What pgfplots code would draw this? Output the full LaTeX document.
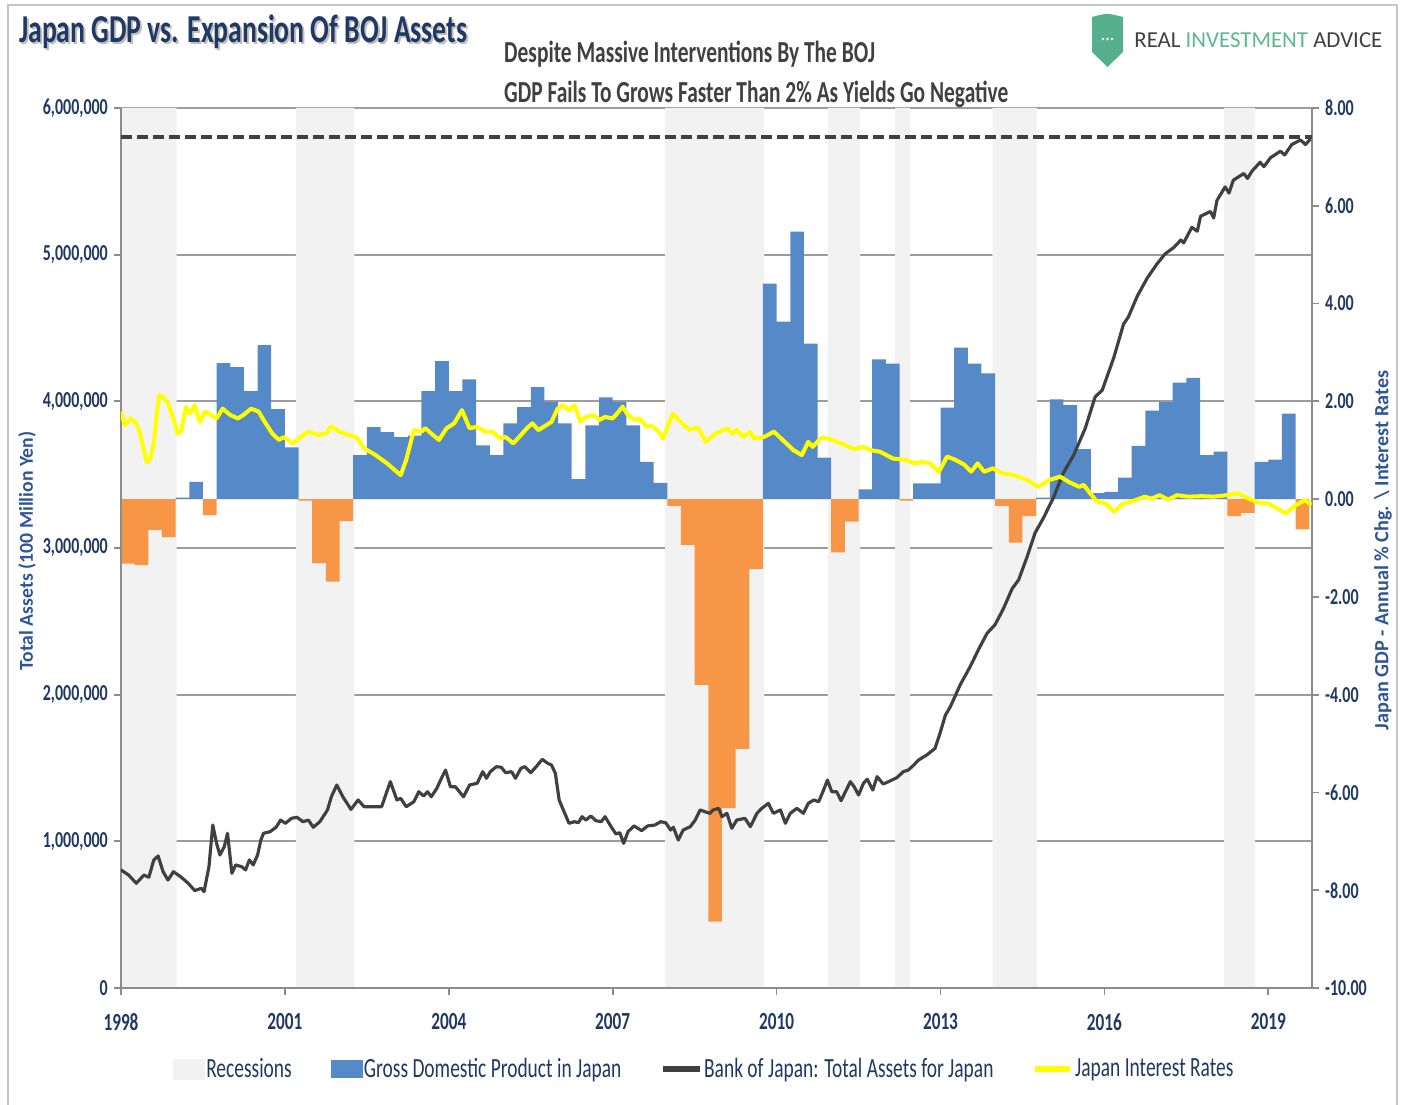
\documentclass[border=0pt]{standalone}
\usepackage{fontspec}
\setmainfont{Carlito}[FakeStretch=0.7]
\newfontfamily\plainfont{Carlito}
\usepackage{pgfplots}
\pgfplotsset{compat=1.18}
\usepackage{pgfplotstable}

\definecolor{recgray}{HTML}{F2F2F2}
\definecolor{gdpblue}{HTML}{5689C7}
\definecolor{gdporange}{HTML}{F79646}
\definecolor{bojgray}{HTML}{404040}
\definecolor{rateyellow}{HTML}{FFFF00}
\definecolor{navy}{HTML}{1F3864}
\definecolor{labelblue}{HTML}{2F5597}
\definecolor{gridgray}{HTML}{9C9C9C}
\definecolor{axisgray}{HTML}{8C8C8C}
\definecolor{logoteal}{HTML}{56B08F}
\definecolor{logogreen}{HTML}{5CB891}

% quarterly GDP, annual % chg (right axis); last row closes the last interval
\pgfplotstableread{
x pos neg
1998.00 0 -1.32
1998.25 0 -1.35
1998.50 0 -0.63
1998.75 0 -0.78
1999.00 0.03 0
1999.25 0.35 0
1999.50 0 -0.33
1999.75 2.78 0
2000.00 2.70 0
2000.25 2.21 0
2000.50 3.15 0
2000.75 1.84 0
2001.00 1.06 0
2001.25 0 -0.03
2001.50 0 -1.31
2001.75 0 -1.69
2002.00 0 -0.45
2002.25 0.90 0
2002.50 1.47 0
2002.75 1.37 0
2003.00 1.27 0
2003.25 1.30 0
2003.50 2.21 0
2003.75 2.82 0
2004.00 2.21 0
2004.25 2.45 0
2004.50 1.10 0
2004.75 0.90 0
2005.00 1.55 0
2005.25 1.88 0
2005.50 2.29 0
2005.75 1.99 0
2006.00 1.55 0
2006.25 0.41 0
2006.50 1.51 0
2006.75 2.08 0
2007.00 1.99 0
2007.25 1.51 0
2007.50 0.76 0
2007.75 0.33 0
2008.00 0 -0.14
2008.25 0 -0.94
2008.50 0 -3.80
2008.75 0 -8.64
2009.00 0 -6.32
2009.25 0 -5.11
2009.50 0 -1.43
2009.75 4.41 0
2010.00 3.63 0
2010.25 5.47 0
2010.50 3.18 0
2010.75 0.85 0
2011.00 0 -1.09
2011.25 0 -0.46
2011.50 0.20 0
2011.75 2.86 0
2012.00 2.77 0
2012.25 0 -0.03
2012.50 0.32 0
2012.75 0.32 0
2013.00 1.87 0
2013.25 3.10 0
2013.50 2.77 0
2013.75 2.57 0
2014.00 0 -0.14
2014.25 0 -0.89
2014.50 0 -0.35
2014.75 0.03 0
2015.00 2.04 0
2015.25 1.92 0
2015.50 1.02 0
2015.75 0.12 0
2016.00 0.15 0
2016.25 0.44 0
2016.50 1.09 0
2016.75 1.81 0
2017.00 1.99 0
2017.25 2.38 0
2017.50 2.48 0
2017.75 0.90 0
2018.00 0.97 0
2018.25 0 -0.35
2018.50 0 -0.28
2018.75 0.76 0
2019.00 0.81 0
2019.25 1.75 0
2019.50 0 -0.62
2019.75 0 0
}\gdptable

% BOJ total assets, millions of 100 million yen (left axis)
\pgfplotstableread{
x v
1998.00 0.805
1998.14 0.770
1998.28 0.714
1998.42 0.770
1998.51 0.755
1998.60 0.873
1998.68 0.900
1998.77 0.793
1998.86 0.736
1998.96 0.793
1999.09 0.759
1999.23 0.714
1999.35 0.664
1999.47 0.680
1999.52 0.657
1999.61 0.827
1999.68 1.111
1999.75 0.986
1999.81 0.907
1999.89 0.963
1999.95 1.055
2000.03 0.782
2000.10 0.839
2000.21 0.827
2000.28 0.805
2000.35 0.873
2000.42 0.839
2000.50 0.907
2000.56 1.009
2000.61 1.055
2000.73 1.066
2000.84 1.096
2000.92 1.145
2001.01 1.123
2001.12 1.157
2001.22 1.164
2001.33 1.134
2001.43 1.145
2001.52 1.096
2001.64 1.134
2001.78 1.214
2001.85 1.304
2001.95 1.384
2002.06 1.304
2002.21 1.218
2002.34 1.282
2002.45 1.236
2002.77 1.236
2002.93 1.407
2003.05 1.282
2003.12 1.293
2003.22 1.236
2003.36 1.270
2003.45 1.338
2003.54 1.309
2003.61 1.338
2003.68 1.304
2003.78 1.361
2003.85 1.418
2003.94 1.486
2004.03 1.372
2004.12 1.372
2004.27 1.304
2004.38 1.384
2004.52 1.396
2004.62 1.475
2004.69 1.430
2004.76 1.475
2004.87 1.509
2004.96 1.505
2005.04 1.468
2005.15 1.475
2005.22 1.430
2005.32 1.498
2005.39 1.509
2005.50 1.468
2005.60 1.509
2005.71 1.559
2005.81 1.532
2005.88 1.520
2005.95 1.464
2006.02 1.282
2006.11 1.202
2006.20 1.123
2006.30 1.134
2006.37 1.127
2006.44 1.168
2006.51 1.145
2006.60 1.173
2006.69 1.141
2006.79 1.134
2006.86 1.168
2006.97 1.100
2007.06 1.050
2007.13 1.059
2007.20 0.986
2007.28 1.066
2007.39 1.105
2007.53 1.073
2007.64 1.105
2007.77 1.111
2007.88 1.134
2007.97 1.127
2008.06 1.077
2008.11 1.096
2008.20 1.009
2008.29 1.077
2008.42 1.100
2008.51 1.145
2008.60 1.214
2008.69 1.202
2008.78 1.191
2008.84 1.214
2008.94 1.225
2009.00 1.168
2009.09 1.191
2009.18 1.089
2009.27 1.145
2009.42 1.157
2009.52 1.100
2009.64 1.191
2009.73 1.225
2009.85 1.259
2009.94 1.191
2010.07 1.214
2010.16 1.123
2010.25 1.191
2010.37 1.225
2010.49 1.191
2010.58 1.259
2010.68 1.282
2010.77 1.270
2010.86 1.350
2010.93 1.418
2011.01 1.338
2011.10 1.338
2011.18 1.277
2011.26 1.338
2011.35 1.407
2011.42 1.372
2011.50 1.316
2011.59 1.396
2011.66 1.423
2011.76 1.350
2011.84 1.441
2011.95 1.391
2012.05 1.407
2012.20 1.434
2012.32 1.475
2012.41 1.486
2012.51 1.520
2012.60 1.555
2012.75 1.589
2012.90 1.634
2012.99 1.736
2013.09 1.861
2013.18 1.918
2013.36 2.067
2013.54 2.189
2013.70 2.311
2013.85 2.417
2014.00 2.478
2014.15 2.585
2014.31 2.722
2014.43 2.783
2014.58 2.935
2014.73 3.102
2014.89 3.209
2015.07 3.346
2015.25 3.513
2015.44 3.635
2015.65 3.817
2015.83 4.030
2015.96 4.076
2016.17 4.296
2016.35 4.526
2016.44 4.576
2016.60 4.716
2016.78 4.838
2016.96 4.936
2017.11 5.005
2017.27 5.049
2017.40 5.100
2017.45 5.080
2017.60 5.186
2017.70 5.160
2017.76 5.262
2017.94 5.294
2018.00 5.250
2018.06 5.370
2018.21 5.462
2018.28 5.420
2018.36 5.508
2018.55 5.553
2018.62 5.520
2018.70 5.569
2018.85 5.630
2018.92 5.600
2019.04 5.661
2019.22 5.705
2019.30 5.680
2019.43 5.751
2019.59 5.782
2019.68 5.751
2019.77 5.788
}\bojtable

% Japan interest rates (right axis)
\pgfplotstableread{
x r
1998.00 1.79
1998.07 1.51
1998.18 1.65
1998.28 1.55
1998.35 1.34
1998.42 1.00
1998.47 0.76
1998.54 0.83
1998.60 1.14
1998.65 1.68
1998.70 2.13
1998.77 2.09
1998.86 1.96
1998.95 1.68
1999.04 1.34
1999.10 1.38
1999.19 1.89
1999.26 1.75
1999.35 1.92
1999.44 1.58
1999.54 1.79
1999.65 1.72
1999.75 1.65
1999.86 1.85
2000.00 1.72
2000.14 1.65
2000.24 1.72
2000.38 1.85
2000.52 1.79
2000.63 1.58
2000.77 1.34
2000.89 1.21
2000.98 1.27
2001.15 1.14
2001.29 1.27
2001.43 1.38
2001.61 1.31
2001.75 1.34
2001.85 1.49
2001.99 1.38
2002.17 1.31
2002.30 1.27
2002.45 1.04
2002.66 0.90
2002.87 0.73
2003.12 0.49
2003.22 0.80
2003.36 1.41
2003.50 1.38
2003.57 1.45
2003.68 1.34
2003.82 1.21
2003.96 1.45
2004.10 1.55
2004.24 1.82
2004.38 1.45
2004.52 1.48
2004.66 1.38
2004.80 1.38
2004.94 1.24
2005.04 1.27
2005.18 1.14
2005.32 1.31
2005.43 1.45
2005.53 1.55
2005.64 1.41
2005.78 1.51
2005.88 1.58
2005.99 1.85
2006.09 1.92
2006.20 1.82
2006.30 1.92
2006.41 1.58
2006.51 1.68
2006.65 1.72
2006.76 1.62
2006.86 1.68
2007.00 1.65
2007.11 1.79
2007.18 1.89
2007.28 1.72
2007.39 1.62
2007.49 1.65
2007.60 1.51
2007.74 1.48
2007.84 1.38
2007.92 1.24
2008.10 1.75
2008.24 1.58
2008.40 1.42
2008.56 1.46
2008.70 1.17
2008.88 1.34
2009.10 1.45
2009.19 1.34
2009.27 1.42
2009.39 1.27
2009.51 1.38
2009.59 1.24
2009.77 1.27
2009.95 1.38
2010.15 1.17
2010.31 1.00
2010.46 0.90
2010.58 1.17
2010.66 1.07
2010.82 1.26
2010.94 1.24
2011.18 1.14
2011.42 1.02
2011.58 1.07
2011.73 1.00
2011.89 0.97
2012.13 0.83
2012.37 0.80
2012.53 0.73
2012.65 0.76
2012.81 0.73
2012.97 0.56
2013.12 0.87
2013.28 0.80
2013.44 0.70
2013.56 0.56
2013.68 0.73
2013.80 0.56
2013.96 0.63
2014.12 0.53
2014.35 0.49
2014.59 0.39
2014.79 0.25
2014.99 0.39
2015.19 0.46
2015.35 0.35
2015.54 0.25
2015.62 0.29
2015.86 -0.05
2016.02 -0.09
2016.18 -0.26
2016.34 -0.09
2016.50 -0.05
2016.74 0.05
2016.86 0.01
2017.01 0.08
2017.17 -0.01
2017.33 0.08
2017.53 0.05
2017.77 0.06
2018.01 0.05
2018.24 0.08
2018.44 0.12
2018.64 0.01
2018.84 -0.08
2019.00 -0.09
2019.16 -0.19
2019.32 -0.29
2019.51 -0.12
2019.67 -0.02
2019.79 -0.12
}\ratetable

\begin{document}
\begin{tikzpicture}
\pgfplotsset{
  base/.style={at={(0,0)}, anchor=south west, scale only axis,
    width=23.82cm, height=17.6cm, xmin=1998, xmax=2019.8,
    axis line style={-, axisgray, line width=1.2pt},
    tick style={axisgray, line width=1pt}, tick align=outside,
    major tick length=0.14cm},
}
\path[use as bounding box] (-2.42,-2.32) rectangle (25.62,19.76);
\draw[gray!45, line width=0.8pt] (-2.26,-2.4) -- (-2.26,19.66) -- (25.52,19.66) -- (25.52,-2.4);

% left axis: grid, ticks, recessions
\begin{axis}[base, ymin=0, ymax=6,
  axis x line*=bottom, axis y line*=left,
  xtick={1998,2001,2004,2007,2010,2013,2016,2019},
  xticklabels={1998,2001,2004,2007,2010,2013,2016,2019},
  ytick={0,1,2,3,4,5,6},
  yticklabels={0,{1,000,000},{2,000,000},{3,000,000},{4,000,000},{5,000,000},{6,000,000}},
  ymajorgrids, grid style={gridgray, line width=1.1pt},
  ticklabel style={text=navy, font=\fontsize{13}{15}\selectfont\bfseries},
  xticklabel style={yshift=-0.25cm, font=\fontsize{14}{16}\selectfont\bfseries},
]
\addplot[ybar interval, fill=recgray, draw=none] coordinates {
  (1998.00,6) (1999.02,0) (2001.20,6) (2002.27,0) (2007.96,6) (2009.77,0)
  (2010.94,6) (2011.53,0) (2012.17,6) (2012.44,0) (2013.95,6) (2014.77,0)
  (2018.19,6) (2018.76,0) (2019.8,0)};
\end{axis}

% right axis: GDP bars
\begin{axis}[base, ymin=-10, ymax=8,
  axis x line*=bottom, axis y line*=right, xtick=\empty,
  ytick={-10,-8,-6,-4,-2,0,2,4,6,8},
  yticklabels={-10.00,-8.00,-6.00,-4.00,-2.00,0.00,2.00,4.00,6.00,8.00},
  yticklabel style={text=navy, font=\fontsize{13}{15}\selectfont\bfseries},
]
\addplot[ybar interval, fill=gdpblue, draw=none] table[x=x, y=pos] {\gdptable};
\addplot[ybar interval, fill=gdporange, draw=none] table[x=x, y=neg] {\gdptable};
\end{axis}

% BOJ assets, left scale
\begin{axis}[base, ymin=0, ymax=6, axis x line=none, axis y line*=left,
  ytick=\empty]
\addplot[bojgray, line width=1.8pt, line join=round] table[x=x, y=v] {\bojtable};
\addplot[bojgray, line width=2.4pt, dash pattern=on 0.22cm off 0.1cm] coordinates {(1998,5.8) (2019.8,5.8)};
\end{axis}

% interest rates, right scale, and legend
\begin{axis}[base, ymin=-10, ymax=8, hide axis,
  legend columns=4,
  legend style={at={(0.4895,-0.092)}, anchor=center, draw=none, fill=none,
    font=\fontsize{15.8}{18}\selectfont, text=navy,
    nodes={inner xsep=1pt},
    /tikz/every even column/.append style={column sep=0.74cm}},
]
\addlegendimage{legend image code/.code={\fill[recgray] (0cm,-0.2cm) rectangle (0.62cm,0.2cm);}}
\addlegendentry{Recessions}
\addlegendimage{legend image code/.code={\fill[gdpblue] (0cm,-0.17cm) rectangle (0.62cm,0.17cm);}}
\addlegendentry{Gross Domestic Product in Japan}
\addlegendimage{legend image code/.code={\draw[bojgray, line width=3pt] (0cm,0cm) -- (0.74cm,0cm);}}
\addlegendentry{Bank of Japan: Total Assets for Japan}
\addlegendimage{legend image code/.code={\draw[rateyellow, line width=3.5pt] (0cm,0cm) -- (0.7cm,0cm);}}
\addlegendentry{Japan Interest Rates}
\addplot[rateyellow, line width=2.3pt, line join=round, forget plot] table[x=x, y=r] {\ratetable};
\end{axis}

% titles
\node[anchor=base west, text=black!25, font=\fontsize{22.5}{26}\selectfont\bfseries] at (-2.12,18.86) {Japan GDP vs. Expansion Of BOJ Assets};
\node[anchor=base west, text=navy, font=\fontsize{22.5}{26}\selectfont\bfseries] at (-2.16,18.90) {Japan GDP vs. Expansion Of BOJ Assets};
\node[anchor=base west, text=bojgray, font=\fontsize{17.4}{19}\selectfont\bfseries] at (7.54,18.50) {Despite Massive Interventions By The BOJ};
\node[anchor=base west, text=bojgray, font=\fontsize{17.4}{19}\selectfont\bfseries] at (7.54,17.70) {GDP Fails To Grows Faster Than 2\% As Yields Go Negative};

% logo
\fill[logoteal] (19.42,19.42) .. controls (19.72,19.50) .. (20.04,19.42) -- (20.04,18.72) -- (19.73,18.42) -- (19.42,18.72) -- cycle;
\foreach \dx in {-0.09,0,0.09} \fill[white] (19.73+\dx,18.98) circle (0.028);
\node[anchor=base west, inner sep=0pt, font=\plainfont\fontsize{13}{15}\selectfont] at (20.26,18.81)
  {\textcolor{bojgray}{REAL} \textcolor{logogreen}{INVESTMENT} \textcolor{bojgray}{ADVICE}};

% axis titles
\node[rotate=90, text=labelblue, font=\plainfont\fontsize{11.2}{13}\selectfont\bfseries] at (-1.88,8.74) {Total Assets (100 Million Yen)};
\node[rotate=90, text=labelblue, font=\plainfont\fontsize{11.5}{13}\selectfont\bfseries] at (25.24,8.75) {Japan GDP - Annual \% Chg. \textbackslash{} Interest Rates};
\end{tikzpicture}
\end{document}
